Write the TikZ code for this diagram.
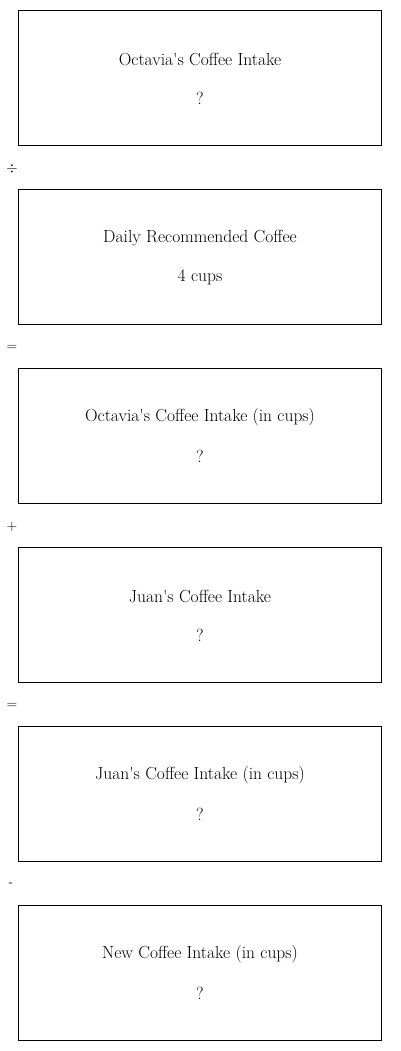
\documentclass[tikz,border=0pt]{standalone}
\begin{document}
\begin{tikzpicture}[x=1pt,y=-1pt,
  box/.style={draw=black,line width=0.8pt,minimum width=363pt,minimum height=135pt,inner sep=0pt},
  ttl/.style={font=\fontsize{17.5}{20}\selectfont,anchor=center,inner sep=0pt},
  op/.style={font=\fontsize{14}{16}\selectfont,anchor=center,inner sep=0pt}]
\useasboundingbox (0,0) rectangle (400,1051);
\foreach \i/\t/\v in {0/{Octavia\textquotesingle s Coffee Intake}/?,1/{Daily Recommended Coffee}/4 cups,2/{Octavia\textquotesingle s Coffee Intake (in cups)}/?,3/{Juan\textquotesingle s Coffee Intake}/?,4/{Juan\textquotesingle s Coffee Intake (in cups)}/?,5/{New Coffee Intake (in cups)}/?}{
  \node[box] (b\i) at (200,77.5+179*\i) {};
  \node[ttl] (t\i) at (200,59+179*\i) {\t};
  \node[ttl] (v\i) at (200,98+179*\i) {\v};
}
\node[op] (o1) at (12,169) {$\div$};
\node[op] (o2) at (12,348) {=};
\node[op] (o3) at (12,527) {+};
\node[op] (o4) at (12,706) {=};
\node[op] (o5) at (11,885) {-};
\end{tikzpicture}
\end{document}
